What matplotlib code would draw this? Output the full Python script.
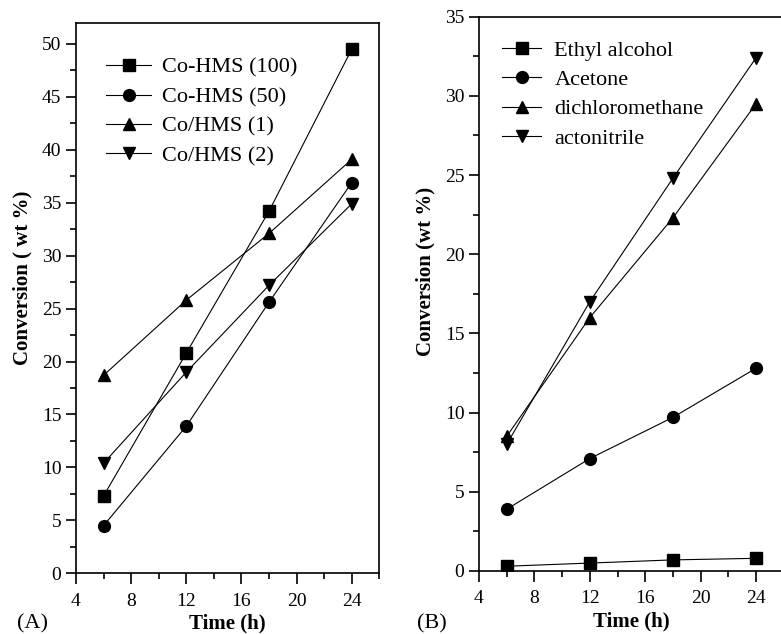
import matplotlib.pyplot as plt
from matplotlib.ticker import MultipleLocator

plt.rcParams["font.family"] = ["Liberation Serif", "DejaVu Serif"]

time_h = [6, 12, 18, 24]

# Panel A
labels_a = ["Co-HMS (100)", "Co-HMS (50)", "Co/HMS (1)", "Co/HMS (2)"]
co_hms_100 = [7.3, 20.8, 34.2, 49.5]
co_hms_50 = [4.5, 13.9, 25.6, 36.9]
co_hms_1 = [18.7, 25.8, 32.1, 39.1]
co_hms_2 = [10.4, 19.0, 27.2, 34.9]

# Panel B
labels_b = ["Ethyl alcohol", "Acetone", "dichloromethane", "actonitrile"]
ethyl_alcohol = [0.3, 0.5, 0.7, 0.8]
acetone = [3.9, 7.1, 9.7, 12.8]
dichloromethane = [8.5, 16.0, 22.3, 29.5]
actonitrile = [8.0, 17.0, 24.8, 32.4]

markers = ["s", "o", "^", "v"]


def style_axes(ax, ymax, ylabel, label_y):
    ax.set_xlim(4, 26)
    ax.set_ylim(0, ymax)
    ax.xaxis.set_major_locator(MultipleLocator(4))
    ax.xaxis.set_minor_locator(MultipleLocator(2))
    ax.yaxis.set_major_locator(MultipleLocator(5))
    ax.yaxis.set_minor_locator(MultipleLocator(2.5))
    ax.set_xticks([4, 8, 12, 16, 20, 24])
    ax.tick_params(which="major", direction="out", length=7, width=1.2, labelsize=14)
    ax.tick_params(axis="x", which="major", length=8, pad=6)
    ax.tick_params(which="minor", direction="out", length=4, width=1.2)
    ax.tick_params(top=False, right=False, which="both")
    for s in ax.spines.values():
        s.set_linewidth(1.2)
    ax.set_xlabel("Time (h)", fontsize=15, fontweight="bold", labelpad=3)
    ax.set_ylabel(ylabel, fontsize=15, fontweight="bold")
    ax.yaxis.set_label_coords(-0.143, label_y)


fig = plt.figure(figsize=(7.81, 6.34), dpi=100)

ax1 = fig.add_axes([0.0973, 0.0957, 0.3884, 0.8685])
for vals, m, lab in zip([co_hms_100, co_hms_50, co_hms_1, co_hms_2], markers, labels_a):
    ax1.plot(time_h, vals, color="black", linewidth=0.8, marker=m,
             markersize=8.5, label=lab)
style_axes(ax1, 52, "Conversion ( wt %)", 0.536)
ax1.legend(loc="upper left", bbox_to_anchor=(0.034, 0.9735), frameon=False,
           fontsize=16, handlelength=2.0, handletextpad=0.5, labelspacing=0.4)
fig.text(0.022, 0.016, "(A)", fontsize=16, va="center")

ax2 = fig.add_axes([0.6133, 0.0994, 0.3902, 0.8743])
for vals, m, lab in zip([ethyl_alcohol, acetone, dichloromethane, actonitrile], markers, labels_b):
    ax2.plot(time_h, vals, color="black", linewidth=0.8, marker=m,
             markersize=8.5, label=lab)
style_axes(ax2, 35, "Conversion (wt %)", 0.541)
ax2.legend(loc="upper left", bbox_to_anchor=(0.0105, 0.994), frameon=False,
           fontsize=16, handlelength=1.75, handletextpad=0.6, labelspacing=0.4)
fig.text(0.534, 0.016, "(B)", fontsize=16, va="center")

fig.savefig("out.png", dpi=100)
